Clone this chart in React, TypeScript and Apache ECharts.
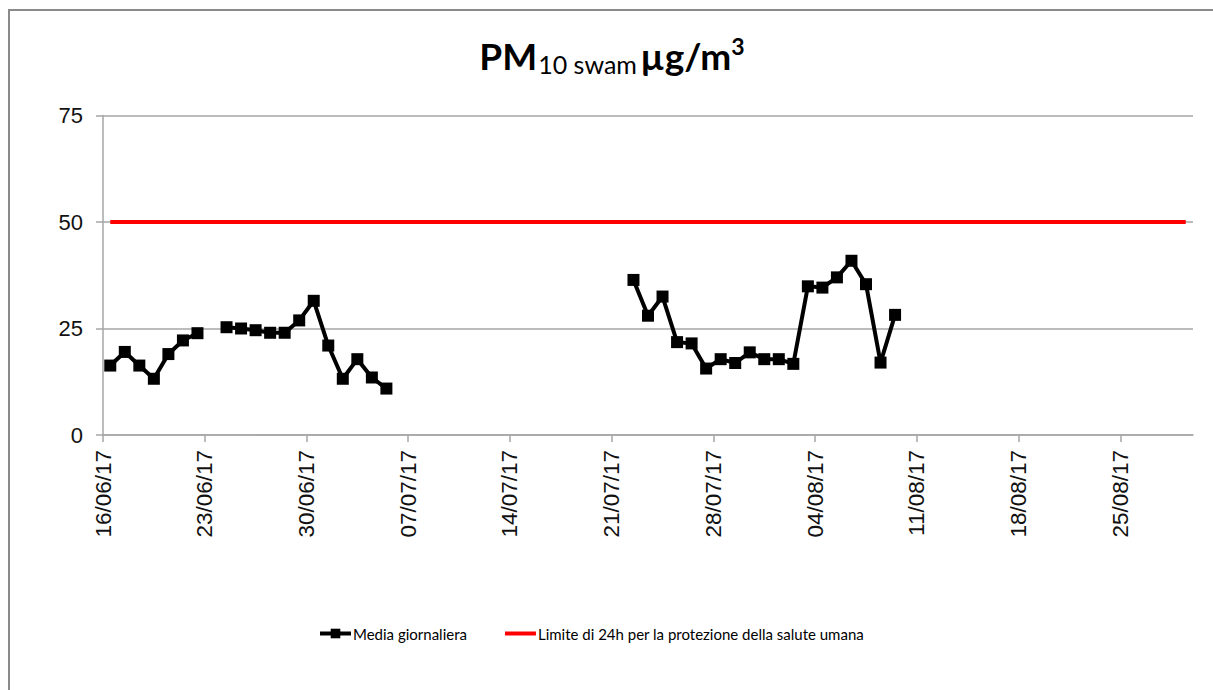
import React, { useEffect, useRef } from "react";
import * as echarts from "echarts";

// ---- data ----
const axisStart = "2017-06-16";
const axisEnd = "2017-08-30";
const tickDates = [
  "2017-06-16", "2017-06-23", "2017-06-30", "2017-07-07", "2017-07-14", "2017-07-21",
  "2017-07-28", "2017-08-04", "2017-08-11", "2017-08-18", "2017-08-25",
];
const dailyDates = [
  "2017-06-16", "2017-06-17", "2017-06-18", "2017-06-19", "2017-06-20", "2017-06-21", "2017-06-22",
  "2017-06-24", "2017-06-25", "2017-06-26", "2017-06-27", "2017-06-28", "2017-06-29", "2017-06-30",
  "2017-07-01", "2017-07-02", "2017-07-03", "2017-07-04", "2017-07-05",
  "2017-07-22", "2017-07-23", "2017-07-24", "2017-07-25", "2017-07-26", "2017-07-27", "2017-07-28",
  "2017-07-29", "2017-07-30", "2017-07-31", "2017-08-01", "2017-08-02", "2017-08-03", "2017-08-04",
  "2017-08-05", "2017-08-06", "2017-08-07", "2017-08-08", "2017-08-09",
];
const dailyValues = [
  16.3, 19.5, 16.3, 13.2, 19.0, 22.2, 23.9,
  25.3, 25.0, 24.6, 24.0, 24.0, 26.9, 31.5,
  21.0, 13.2, 17.8, 13.5, 10.9,
  36.4, 28.0, 32.5, 21.8, 21.5, 15.6, 17.8,
  16.9, 19.4, 17.8, 17.8, 16.7, 34.9, 34.6,
  37.0, 40.9, 35.4, 17.0, 28.2,
];
const limitStart = "2017-06-16";
const limitEnd = "2017-08-29";
const limitValue = 50;
const yTicks = [0, 25, 50, 75];

const seriesNames = ["Media giornaliera", "Limite di 24h per la protezione della salute umana"];

const DAY = 86400000;
const toMs = (s: string) => {
  const [y, m, d] = s.split("-").map(Number);
  return Date.UTC(y, m - 1, d);
};
const dayOffset = (s: string) => Math.round((toMs(s) - toMs(axisStart)) / DAY);
const fmtTick = (v: number) => {
  const dt = new Date(toMs(axisStart) + Math.round(v) * DAY);
  const dd = String(dt.getUTCDate()).padStart(2, "0");
  const mm = String(dt.getUTCMonth() + 1).padStart(2, "0");
  const yy = String(dt.getUTCFullYear()).slice(2);
  return `${dd}/${mm}/${yy}`;
};

export default function App() {
  const ref = useRef<HTMLDivElement>(null);
  useEffect(() => {
    if (!ref.current) return;
    const chart = echarts.init(ref.current, undefined, { renderer: "svg" });

    // build daily series with gaps (null) where days are missing
    const daily: any[] = [];
    dailyDates.forEach((d, i) => {
      const off = dayOffset(d);
      if (i > 0 && off - dayOffset(dailyDates[i - 1]) > 1) daily.push([off - 0.5, null]);
      daily.push([off + 0.5, dailyValues[i]]);
    });
    const limit = [
      [dayOffset(limitStart) + 0.5, limitValue],
      [dayOffset(limitEnd) + 0.5, limitValue],
    ];
    const tickVals = tickDates.map(dayOffset);
    const axisGray = "#a6a6a6";
    const humanist = "Lato, 'Liberation Sans', sans-serif";
    const arial = "'Liberation Sans', Arial, sans-serif";

    chart.setOption({
      animation: false,
      backgroundColor: "#ffffff",
      graphic: [
        {
          type: "rect",
          shape: { x: 9, y: 10, width: 1230, height: 700 },
          style: { fill: "none", stroke: "#8a8a8a", lineWidth: 2 },
          silent: true,
        },
        {
          type: "text",
          x: 612,
          y: 55,
          style: {
            text: "{a|PM}{b|10 swam} {a|µg/m}{c|3}",
            align: "center",
            verticalAlign: "middle",
            fill: "#000",
            rich: {
              a: { fontSize: 37, fontWeight: "bold", fontFamily: humanist, lineHeight: 42, fill: "#000" },
              b: { fontSize: 25, fontWeight: "normal", fontFamily: humanist, lineHeight: 22, verticalAlign: "bottom", fill: "#000", padding: [0, 0, 0, 1] },
              c: { fontSize: 23, fontWeight: "bold", fontFamily: humanist, lineHeight: 22, verticalAlign: "top", fill: "#000" },
            },
          },
        },
      ],
      legend: {
        left: 313,
        top: 621,
        itemWidth: 31,
        itemHeight: 12,
        itemGap: 36,
        data: [
          { name: seriesNames[0], lineStyle: { width: 4 } },
          { name: seriesNames[1], lineStyle: { width: 4 }, itemStyle: { opacity: 0, color: "rgba(0,0,0,0)" } },
        ],
        textStyle: { fontSize: 15, fontFamily: humanist, color: "#000", padding: [0, 0, 0, -3] },
      },
      grid: { left: 103, right: 20, top: 115.5, bottom: 255, containLabel: false, outerBoundsMode: "none" },
      xAxis: {
        type: "value",
        min: 0,
        max: dayOffset(axisEnd),
        interval: 7,
        axisLine: { show: true, lineStyle: { color: axisGray, width: 1.5 } },
        axisTick: { show: true, length: 7, lineStyle: { color: axisGray, width: 1.5 }, customValues: tickVals },
        axisLabel: {
          rotate: 90,
          margin: 15,
          fontSize: 22.5,
          fontFamily: arial,
          color: "#111",
          customValues: tickVals,
          formatter: (v: number) => fmtTick(v),
        },
        splitLine: { show: false },
      },
      yAxis: {
        type: "value",
        min: yTicks[0],
        max: yTicks[yTicks.length - 1],
        interval: 25,
        axisLine: { show: true, lineStyle: { color: axisGray, width: 1.5 } },
        axisTick: { show: true, length: 7, lineStyle: { color: axisGray, width: 1.5 } },
        axisLabel: { margin: 20, fontSize: 22, fontFamily: arial, color: "#111" },
        splitLine: { show: true, lineStyle: { color: axisGray, width: 1.5 } },
      },
      series: [
        {
          name: seriesNames[0],
          type: "line",
          data: daily,
          connectNulls: false,
          symbol: "rect",
          symbolSize: 12,
          showSymbol: true,
          lineStyle: { color: "#000", width: 4 },
          itemStyle: { color: "#000" },
          z: 3,
        },
        {
          name: seriesNames[1],
          type: "line",
          data: limit,
          symbol: "none",
          showSymbol: false,
          lineStyle: { color: "#ff0000", width: 4 },
          itemStyle: { color: "#ff0000" },
          z: 2,
        },
      ],
    });
    return () => chart.dispose();
  }, []);
  return (
    <div
      ref={ref}
      style={{ position: "fixed", left: 0, top: 0, width: 1213, height: 690, background: "#fff" }}
    />
  );
}
